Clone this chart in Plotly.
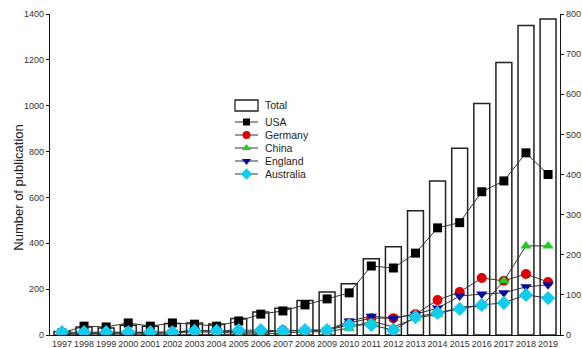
import plotly.graph_objects as go

# Publication counts per year
years = list(range(1997, 2020))
total = [15, 35, 30, 42, 38, 50, 52, 48, 72, 100, 117, 150, 188, 224, 333, 385, 542, 672, 814, 1010, 1188, 1350, 1378]
usa = [5, 22, 20, 30, 22, 30, 27, 22, 35, 52, 60, 75, 90, 105, 172, 167, 204, 267, 280, 357, 384, 454, 400]
germany = [2, 3, 3, 5, 4, 5, 8, 6, 5, 5, 12, 10, 12, 30, 42, 42, 52, 87, 107, 142, 135, 152, 132]
china = [0, 0, 0, 1, 1, 1, 1, 1, 2, 2, 5, 8, 8, 17, 35, 20, 42, 52, 70, 72, 135, 222, 222]
england = [3, 5, 5, 6, 6, 7, 12, 10, 8, 8, 10, 12, 12, 35, 47, 42, 52, 67, 97, 102, 105, 120, 125]
australia = [7, 7, 7, 7, 7, 7, 10, 10, 12, 12, 10, 12, 12, 25, 25, 12, 45, 55, 65, 75, 80, 100, 92]

left_ticks = [0, 200, 400, 600, 800, 1000, 1200, 1400]
right_ticks = [0, 100, 200, 300, 400, 500, 600, 700, 800]

FONT = "Liberation Sans, Arial, sans-serif"
W, H = 582, 348
ML, MR, MT, MB = 50, 22, 14, 13
PW, PH = W - ML - MR, H - MT - MB


def px_to_paper(px, py):
    return (px - ML) / PW, (H - MB - py) / PH


fig = go.Figure()

fig.add_trace(go.Bar(
    x=years, y=total, name="Total", width=0.72,
    marker=dict(color="white", line=dict(color="#222222", width=1.5)),
    yaxis="y", showlegend=False,
))

countries = [
    ("USA", usa, "#000000", "square", 9),
    ("Germany", germany, "#dd0000", "circle", 10),
    ("China", china, "#22cc22", "triangle-up", 10),
    ("England", england, "#0a0a9a", "triangle-down", 10),
    ("Australia", australia, "#11ccee", "diamond", 11),
]
for name, vals, color, symbol, size in countries:
    fig.add_trace(go.Scatter(
        x=years, y=vals, name=name, mode="lines+markers", yaxis="y2",
        line=dict(color="#333333", width=1),
        marker=dict(color=color, symbol=symbol, size=size, line=dict(width=0)),
        showlegend=False,
    ))

# Compact legend drawn on a hidden paper-scaled axis pair
shapes = []
annotations = []
lx0, lx1, ltext = 235, 258, 263
box_y0, box_y1 = 100, 111
bx0, by0 = px_to_paper(lx0, box_y1)
bx1, by1 = px_to_paper(lx1, box_y0)
shapes.append(dict(type="rect", xref="paper", yref="paper", x0=bx0, x1=bx1,
                   y0=by0, y1=by1, line=dict(color="#222222", width=1.3),
                   fillcolor="white"))
tx, ty = px_to_paper(ltext, (box_y0 + box_y1) / 2)
annotations.append(dict(text="Total", x=tx, y=ty, xref="paper", yref="paper",
                        xanchor="left", yanchor="middle", showarrow=False,
                        font=dict(family=FONT, size=10.5, color="#222222")))
row_y = 122
for name, vals, color, symbol, size in countries:
    x0p, yp = px_to_paper(lx0, row_y)
    x1p, _ = px_to_paper(lx1, row_y)
    fig.add_trace(go.Scatter(
        x=[x0p, x1p], y=[yp, yp], mode="lines", xaxis="x3", yaxis="y3",
        line=dict(color="#333333", width=1), showlegend=False, hoverinfo="skip",
    ))
    fig.add_trace(go.Scatter(
        x=[(x0p + x1p) / 2], y=[yp], mode="markers", xaxis="x3", yaxis="y3",
        marker=dict(color=color, symbol=symbol, size=size - 2, line=dict(width=0)),
        showlegend=False, hoverinfo="skip",
    ))
    tx, ty = px_to_paper(ltext, row_y)
    annotations.append(dict(text=name, x=tx, y=ty, xref="paper", yref="paper",
                            xanchor="left", yanchor="middle", showarrow=False,
                            font=dict(family=FONT, size=10.5, color="#222222")))
    row_y += 13

annotations.append(dict(
    text="Number of publication", xref="paper", yref="paper",
    x=-0.062, y=0.46, xanchor="center", yanchor="middle",
    textangle=-90, showarrow=False,
    font=dict(family=FONT, size=13, color="#222222"),
))

axis_common = dict(
    showline=True, linecolor="#111111", linewidth=1.3, mirror=False,
    ticks="outside", ticklen=3, tickwidth=1, tickcolor="#111111",
    showgrid=False, zeroline=False, automargin=False,
    tickfont=dict(family=FONT, size=9, color="#333333"),
)

fig.update_layout(
    width=W, height=H,
    margin=dict(l=ML, r=MR, t=MT, b=MB),
    paper_bgcolor="white", plot_bgcolor="white",
    showlegend=False,
    xaxis=dict(
        range=[1996.46, 2019.54], tickmode="array", tickvals=years,
        ticktext=[str(y) for y in years],
        showline=True, linecolor="#111111", linewidth=1.3,
        ticks="", showgrid=False, zeroline=False, automargin=False,
        tickfont=dict(family=FONT, size=9, color="#333333"),
        tickangle=0,
    ),
    yaxis=dict(range=[0, 1400], tickvals=left_ticks, **axis_common),
    yaxis2=dict(range=[0, 800], tickvals=right_ticks, overlaying="y",
                side="right", **axis_common),
    xaxis3=dict(range=[0, 1], overlaying="x", visible=False),
    yaxis3=dict(range=[0, 1], overlaying="y", visible=False),
    shapes=shapes,
    annotations=annotations,
)

fig.write_html("out.html")
